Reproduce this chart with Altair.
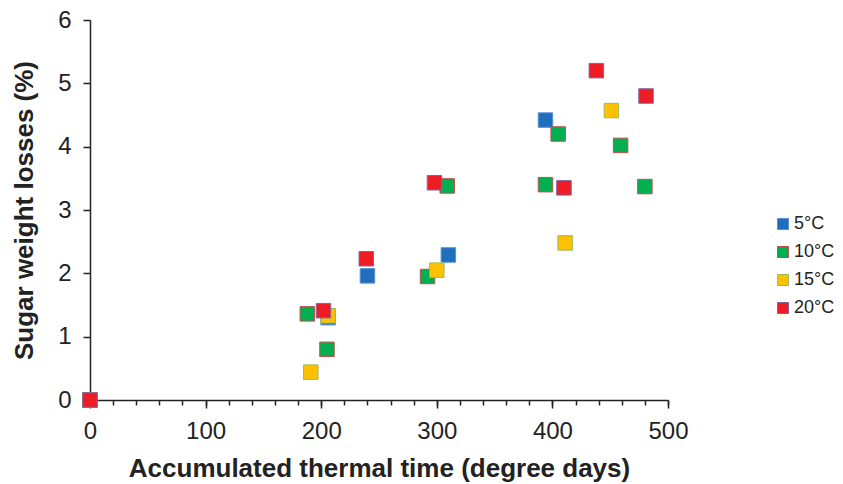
import pandas as pd
import altair as alt

# accumulated thermal time (degree days) and sugar weight losses (%) per storage temperature
x_5 = [0, 206, 240, 310, 394]
y_5 = [0, 1.30, 1.96, 2.29, 4.42]

x_10 = [0, 188, 205, 292, 309, 394, 405, 459, 480]
y_10 = [0, 1.36, 0.80, 1.95, 3.38, 3.40, 4.20, 4.02, 3.37]

x_15 = [0, 191, 206, 300, 411, 451]
y_15 = [0, 0.44, 1.33, 2.05, 2.48, 4.57]

x_20 = [0, 202, 239, 298, 410, 438, 481]
y_20 = [0, 1.41, 2.23, 3.43, 3.35, 5.20, 4.80]

series = ["5°C", "10°C", "15°C", "20°C"]
fills = ["#1F6FBF", "#00B050", "#FFC000", "#EE1C25"]
strokes = ["#5B8FD0", "#C0504D", "#9BBB59", "#8064A2"]

frames = []
for i, (name, xs, ys) in enumerate(zip(series, [x_5, x_10, x_15, x_20], [y_5, y_10, y_15, y_20])):
    frames.append(pd.DataFrame({"time": xs, "loss": ys, "temp": name, "idx": i}))
data = pd.concat(frames, ignore_index=True)

font = "Liberation Sans"
x_scale = alt.Scale(domain=[0, 500], nice=False)
y_axis = alt.Axis(values=list(range(0, 7)), format="d", tickSize=7, title="Sugar weight losses (%)",
                  labelPadding=12, titlePadding=20, domainWidth=1.5, labelFlush=False)

points = alt.Chart(data).mark_point(
    shape="square", filled=True, size=210, strokeWidth=1, opacity=1
).encode(
    x=alt.X("time:Q", scale=x_scale, axis=alt.Axis(
        values=list(range(0, 501, 100)), tickSize=8, title="Accumulated thermal time (degree days)",
        labelPadding=11, titlePadding=12, domainWidth=1.5, labelFlush=False)),
    y=alt.Y("loss:Q", scale=alt.Scale(domain=[0, 6], nice=False), axis=y_axis),
    fill=alt.Fill("temp:N", sort=series, scale=alt.Scale(domain=series, range=fills), legend=alt.Legend(
        title=None, orient="none", legendX=684, legendY=195, symbolType="square", symbolSize=121,
        symbolStrokeWidth=1, labelFontSize=18, labelFont=font, labelColor="#222", rowPadding=10,
        labelOffset=2)),
    stroke=alt.Stroke("temp:N", sort=series, scale=alt.Scale(domain=series, range=strokes), legend=None),
    order=alt.Order("idx:Q"),
)

# second bottom axis, only for the short minor ticks every 20 degree days
minor = alt.Chart(data).mark_point(opacity=0).encode(
    x=alt.X("time:Q", scale=x_scale, axis=alt.Axis(
        orient="bottom", values=list(range(0, 501, 20)), tickSize=5, labels=False,
        title=None, domain=False)),
    y=alt.Y("loss:Q", axis=y_axis),
)

chart = alt.layer(points, minor).resolve_axis(x="independent").properties(
    width=578, height=380,
    autosize=alt.AutoSizeParams(type="none"),
    padding={"left": 82, "top": 12, "right": 167, "bottom": 84},
).configure_view(stroke=None).configure_axis(
    grid=False, domainColor="#222", tickColor="#222", tickWidth=1.5,
    labelFont=font, labelFontSize=24, labelColor="#222",
    titleFont=font, titleFontSize=26, titleFontWeight="bold", titleColor="#222",
)

chart.save("out.html", embed_options={"renderer": "svg", "actions": False})
